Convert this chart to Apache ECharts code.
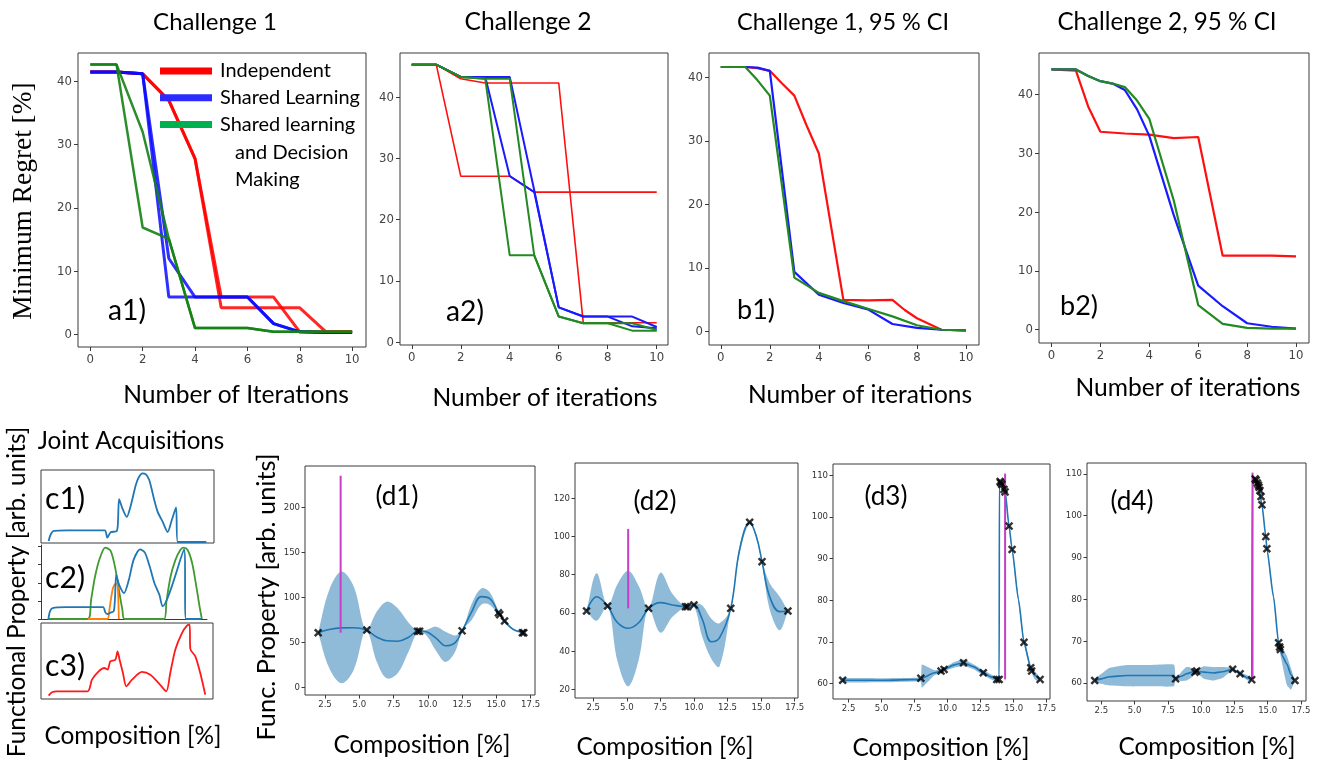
<!DOCTYPE html>
<html><head><meta charset="utf-8">
<script src="https://cdn.jsdelivr.net/npm/echarts@6/dist/echarts.min.js"></script>
<style>html,body{margin:0;padding:0;background:#fff}#c{width:1319px;height:762px}</style>
</head><body><div id="c"></div>
<script>
// ---------- top row: minimum regret vs iterations ----------
const iters = [0,1,2,3,4,5,6,7,8,9,10];
const topXTicks = [0,2,4,6,8,10];
const topYTicks = [0,10,20,30,40];

const a1RedA   = [41.5,41.5,41.2,37.0,27.8,4.2,4.2,4.2,4.2,0.4,0.4];
const a1RedB   = [41.5,41.5,41.2,37.0,27.8,5.9,5.9,5.9,0.4,0.4,0.4];
const a1BlueA  = [41.5,41.5,41.2,5.9,5.9,5.9,5.9,1.7,0.4,0.3,0.3];
const a1BlueB  = [41.5,41.5,41.2,12.0,5.9,5.9,5.9,1.7,0.4,0.3,0.3];
const a1GreenA = [42.7,42.7,32.0,15.1,1.0,1.0,1.0,0.4,0.4,0.4,0.4];
const a1GreenB = [42.7,42.7,16.9,15.1,1.0,1.0,1.0,0.4,0.4,0.4,0.4];

const a2RedA   = [45.3,45.3,27.1,27.1,27.1,24.5,24.5,24.5,24.5,24.5,24.5];
const a2RedB   = [45.3,45.3,43.0,42.3,42.3,42.3,42.3,3.2,3.2,3.2,3.2];
const a2BlueA  = [45.3,45.3,43.3,43.3,27.1,24.5,5.7,4.2,4.2,4.2,2.5];
const a2BlueB  = [45.3,45.3,43.3,43.3,43.3,24.8,5.7,4.2,4.2,2.6,2.3];
const a2GreenA = [45.3,45.3,43.3,43.0,14.2,14.2,4.2,3.1,3.1,1.9,1.9];
const a2GreenB = [45.3,45.3,43.3,43.0,43.0,14.2,4.2,3.1,3.1,3.1,2.0];

const b1RedX   = [0,1,1.5,2,2.5,3,3.5,4,5,6,7,7.5,8,9,10];
const b1Red    = [41.6,41.6,41.4,41.0,39.0,37.1,32.4,28.0,5.0,4.9,5.0,3.4,2.1,0.3,0.2];
const b1BlueX  = [0,1,1.5,2,3,4,5,6,7,8,9,10];
const b1Blue   = [41.6,41.6,41.5,41.0,9.4,5.8,4.5,3.5,1.2,0.6,0.3,0.2];
const b1GreenX = [0,1,1.5,2,3,4,5,6,7,8,9,10];
const b1Green  = [41.6,41.6,39.5,37.1,8.5,6.1,4.8,3.6,2.4,1.0,0.3,0.2];

const b2RedX   = [0,1,1.5,2,3,4,5,6,7,8,9,10];
const b2Red    = [44.3,44.1,38.0,33.7,33.4,33.2,32.6,32.8,12.6,12.6,12.6,12.5];
const b2BlueX  = [0,1,1.5,2,2.5,3,3.5,4,5,6,7,8,9,10];
const b2Blue   = [44.3,44.3,43.2,42.3,41.9,40.8,37.5,33.0,19.5,7.5,4.0,1.1,0.5,0.2];
const b2GreenX = [0,1,1.5,2,2.5,3,3.5,4,5,6,7,8,9,10];
const b2Green  = [44.3,44.3,43.2,42.3,41.9,41.3,39.0,35.9,22.0,4.2,1.0,0.3,0.2,0.2];

// ---------- c panels: joint acquisitions ----------
const c1X = [2.00,2.16,2.48,3.75,7.33,7.58,7.90,8.48,8.60,8.70,9.02,9.43,9.82,10.29,10.6,10.93,11.25,11.57,12.05,12.37,12.85,13.32,13.71,14.12,14.28,17.00];
const c1Y = [2.8,10.6,16.5,17.4,17.4,7.3,14.7,16.5,31.2,60.1,47.2,35.8,51.8,79.4,90.8,95.4,94.0,86.2,58.7,42.7,28.9,15.1,31.2,48.6,1.4,1.4];

const c2BlueX = [2.00,2.16,2.41,3.75,7.42,7.65,7.84,8.22,8.48,8.60,8.73,9.02,9.50,9.98,10.45,11.09,11.57,12.05,12.52,13.01,13.32,15.46,15.65,17.15];
const c2BlueY = [0,10.6,15.1,16.5,16.5,9.2,6.9,9.2,10.6,26.6,61.0,47.2,35.8,54.1,81.7,96.3,91.7,72.5,49.5,33.5,17.4,96.3,0,0];
const c2GreenX = [2.00,5.92,6.24,6.63,7.10,7.65,8.16,8.60,9.02,9.34,9.56,13.48,13.71,14.12,14.60,15.08,15.40,15.81,16.26,16.67,16.99,17.22];
const c2GreenY = [0,0,26.6,58.7,83.9,98.6,94.5,72.5,38.1,12.8,0,0,24.3,58.7,81.7,95.4,98.6,95.4,77.1,45.0,17.4,0];
const c2OrangeX = [5.92,7.84,8.03,8.22,8.41,8.60,8.79,8.89,8.99];
const c2OrangeY = [0,0,10.6,28.9,42.7,48.2,48.6,42.7,0];

const c3X = [2.00,2.32,2.80,5.73,6.15,6.79,7.33,7.65,7.90,8.38,8.60,8.79,9.11,9.43,9.98,10.93,11.73,12.53,13.26,13.64,14.12,14.76,15.24,15.49,15.56,16.04,16.51,16.99];
const c3Y = [4.6,9.2,10.6,10.6,26.6,38.1,42.7,40.4,51.8,54.1,65.6,54.1,35.8,17.4,26.6,37.2,33.5,22.0,10.6,35.8,67.9,90.8,100.9,102.3,68.8,58.7,35.8,6.0];

// ---------- d panels: GP fits ----------
const dXTicks = [2.5,5,7.5,10,12.5,15,17.5];
const d1YTicks = [0,50,100,150,200];
const d2YTicks = [20,40,60,80,100,120];
const d34YTicks = [60,70,80,90,100,110];

const d1X     = [2.0,2.8,3.7,4.6,5.5,6.3,7.0,7.8,8.6,9.3,9.9,10.6,11.3,12.0,12.5,13.2,13.9,14.5,15.2,15.6,16.2,17.0];
const d1Mean  = [61,64.5,66.3,66.5,64,56,52,51.5,56,63,62,55,46.5,50,63,84,101,99,82,74,65,61];
const d1Upper = [61,108,128.7,112,64,85,95.4,88,72,63,64,67.7,62,58,63,93,110,106,84,76,66,61];
const d1Lower = [61,22,4.8,20,64,28,10.4,16,40,62,58,41,28.5,40,63,75,92,92,80,72,64,61];
const d1ObsX  = [2.0,5.55,9.25,9.4,12.5,15.15,15.25,15.6,16.9,17.0];
const d1ObsY  = [61,64,62.5,62.5,63,83,81,74,61,61];
const d1Acq   = [3.64,61,235];

const d2X     = [2.0,2.75,3.57,4.3,5.1,5.9,6.62,7.5,8.4,9.4,10.0,10.6,11.3,11.9,12.74,13.4,14.15,14.65,15.07,15.64,16.39,17.0];
const d2Mean  = [61,68.5,63.6,55,52,55,62.4,65.4,64.2,63.3,64.2,57,45,47,62.4,93,107.4,99.9,86.8,68.5,60.7,61];
const d2Upper = [61,80.7,63.6,75,82.1,74,62.4,81,70,63.3,65,64,57,54.6,62.4,95,108,101,87.5,75.5,68.5,61];
const d2Lower = [61,55.9,63.6,35,21.7,36,62.4,49.7,58,63.3,63.5,48,36,32,62.4,91,106.8,98.8,86,62,51,61];
const d2ObsX  = [2.0,3.57,6.62,9.37,9.52,10.0,12.74,14.15,15.07,17.0];
const d2ObsY  = [61,63.6,62.4,63.3,63.3,64.2,62.4,107.4,86.8,61];
const d2Acq   = [5.1,62.4,103.9];

const d3X     = [2.0,5.0,7.95,8.05,9.0,9.5,9.73,10.5,11.2,12.0,12.7,13.3,13.72,13.9,13.92,14.1,14.35,14.65,14.88,15.36,15.78,16.29,16.6,17.0];
const d3Mean  = [60.8,60.8,61.0,61.3,62.6,63.0,63.4,64.5,65.0,64.0,62.6,61.6,61.0,61.0,108.5,107.8,106.2,97.8,92.2,80.2,69.9,63.8,62.0,61.0];
const d3Lower = [60.3,60.3,60.5,59.0,62.0,62.6,63.0,63.8,64.2,63.4,62.0,61.0,60.5,60.6,108,107.3,105.7,97.3,91.7,79.6,69.3,63.0,61.0,60.4];
const d3Upper = [61.3,61.3,61.5,64.6,63.2,63.4,63.8,65.2,65.8,64.6,63.2,62.2,61.5,61.4,109,108.3,106.7,98.3,92.7,80.8,70.5,64.6,63.0,61.4];
const d3ObsX  = [2.05,7.97,9.5,9.73,11.2,12.7,13.72,13.9,13.97,14.02,14.1,14.27,14.35,14.65,14.88,15.78,16.29,16.36,17.0];
const d3ObsY  = [60.8,61.3,63.0,63.4,65.0,62.6,61.0,61.0,108.5,108.2,107.8,106.6,106.0,97.8,92.2,69.9,63.8,63.0,61.0];
const d3Acq   = [14.35,61,110.4];

const d4X     = [2.0,2.5,3.1,4.4,6.0,7.95,8.08,8.5,8.9,9.3,9.6,10.2,10.9,11.6,12.37,12.93,13.5,13.8,13.86,14.06,14.3,14.57,14.86,14.94,15.44,15.82,16.1,16.44,16.75,17.0];
const d4Mean  = [60.6,61.0,61.5,61.8,61.8,61.8,61.0,61.6,62.2,62.6,62.8,62.6,62.4,62.7,63.3,62.2,61.2,60.8,109.0,108.8,107.3,102.6,95.0,92.1,80.6,69.6,66.5,64.6,62.0,60.6];
const d4Lower = [60.3,59.8,59.4,59.2,59.2,59.2,60.7,60.5,60.6,61.4,62.5,61.0,60.6,61.2,63.0,61.9,60.6,60.5,108.6,108.4,106.9,102.2,94.6,91.7,80.2,69.2,64.5,59.5,58.4,60.3];
const d4Upper = [60.9,62.2,63.6,64.3,64.3,64.4,61.3,62.6,63.8,63.6,63.1,64.0,63.8,63.8,63.6,62.5,61.8,61.1,109.4,109.2,107.7,103.0,95.4,92.5,81.0,70.0,68.5,66.5,63.5,60.9];
const d4ObsX  = [2.0,8.08,9.53,9.66,12.37,12.93,13.8,14.06,14.13,14.22,14.3,14.35,14.42,14.5,14.57,14.86,14.94,15.82,15.9,15.95,17.05];
const d4ObsY  = [60.6,61.0,62.6,62.9,63.3,62.2,60.8,108.8,108.5,107.8,107.3,106.8,106.0,104.6,102.6,95.0,92.1,69.6,68.6,68.0,60.6];
const d4Acq   = [13.86,61,110.3];

// ---------- layout helpers ----------
const SANS = "Lato, 'Open Sans', sans-serif";
const SERIF = "'Liberation Serif', 'DejaVu Serif', serif";
const TICKFONT = "'DejaVu Sans Condensed', 'DejaVu Sans', sans-serif";
const cv = document.createElement('canvas').getContext('2d');
function fit(text, family, width) { cv.font = '100px ' + family; return 100 * width / cv.measureText(text).width; }
const pairs = (xs, ys) => xs.map((x, i) => [x, ys[i]]);

const grids = [], xAxes = [], yAxes = [], series = [];
function addPanel(box, xr, yr, xt, yt, o) {
  const gi = grids.length;
  o = o || {};
  grids.push({left: box[0], top: box[1], width: box[2], height: box[3],
    show: o.border !== false, borderColor: '#3a3a3a', borderWidth: 1, containLabel: false});
  const lab = o.lab || {fontFamily: TICKFONT, fontSize: 13, color: '#444', margin: 6};
  xAxes.push({gridIndex: gi, type: 'value', min: xr[0], max: xr[1],
    axisLine: {show: !!o.xLine, onZero: false, lineStyle: {color: '#3a3a3a'}},
    splitLine: {show: false},
    axisTick: xt ? {show: true, length: o.tl || 4, lineStyle: {color: '#3a3a3a'}, customValues: xt} : {show: false},
    axisLabel: xt ? Object.assign({show: true, customValues: xt, formatter: o.xfmt || (v => String(v))}, lab) : {show: false}});
  yAxes.push({gridIndex: gi, type: 'value', min: yr[0], max: yr[1],
    axisLine: {show: !!o.yLine, onZero: false, lineStyle: {color: '#3a3a3a'}},
    splitLine: {show: false},
    axisTick: yt ? {show: true, length: o.tl || 4, lineStyle: {color: '#3a3a3a'}, customValues: yt} : {show: false},
    axisLabel: (yt && !o.noYLab) ? Object.assign({show: true, customValues: yt}, lab) : {show: false}});
  return gi;
}
function line(gi, name, data, color, width, extra) {
  series.push(Object.assign({type: 'line', name: name, xAxisIndex: gi, yAxisIndex: gi, data: data,
    symbol: 'none', showSymbol: false, lineStyle: {color: color, width: width}, itemStyle: {color: color},
    silent: true, animation: false, z: 3}, extra || {}));
}
// confidence band: polygon through upper curve and back along lower curve, via the axes' scales
function band(gi, xs, lo, hi, sm) {
  series.push({type: 'custom', xAxisIndex: gi, yAxisIndex: gi, silent: true, animation: false, z: 1, clip: true,
    data: [[xs[0], lo[0]]],
    renderItem: function (params, api) {
      const pts = [];
      for (let i = 0; i < xs.length; i++) pts.push(api.coord([xs[i], hi[i]]));
      for (let i = xs.length - 1; i >= 0; i--) pts.push(api.coord([xs[i], lo[i]]));
      return {type: 'polygon', shape: {points: pts, smooth: sm}, style: {fill: 'rgba(31,119,180,0.5)', stroke: null}};
    }});
}
const XSYM = 'path://M0,2 L2,0 L5,3 L8,0 L10,2 L7,5 L10,8 L8,10 L5,7 L2,10 L0,8 L3,5 Z';
function obs(gi, xs, ys) {
  series.push({type: 'scatter', xAxisIndex: gi, yAxisIndex: gi, data: pairs(xs, ys), symbol: XSYM, symbolSize: 8.5,
    itemStyle: {color: '#000'}, silent: true, animation: false, z: 5});
}
function acq(gi, a) {
  line(gi, 'acq' + gi, [[a[0], a[1]], [a[0], a[2]]], '#c63fc6', 2, {z: 4});
}

const RED = '#ff1010', BLUE = '#1a1aff', GREEN = '#238a23';
const L1 = 'Independent', L2 = 'Shared Learning', L3 = 'Shared learning';

// a1
let g = addPanel([78, 53, 288, 294], [-0.47, 10.53], [-2.0, 44.5], topXTicks, topYTicks);
line(g, L1, pairs(iters, a1RedA), 'rgba(255,0,0,0.85)', 3);
line(g, L1, pairs(iters, a1RedB), 'rgba(255,0,0,0.85)', 3);
line(g, L2, pairs(iters, a1BlueA), 'rgba(10,10,255,0.85)', 3);
line(g, L2, pairs(iters, a1BlueB), 'rgba(10,10,255,0.85)', 3);
line(g, L3, pairs(iters, a1GreenA), 'rgba(20,130,20,0.9)', 2.5);
line(g, L3, pairs(iters, a1GreenB), 'rgba(20,130,20,0.9)', 2.5);
// a2
g = addPanel([400, 53, 268, 292], [-0.48, 10.46], [-0.44, 47.2], topXTicks, topYTicks);
line(g, L1, pairs(iters, a2RedA), RED, 1.6);
line(g, L1, pairs(iters, a2RedB), RED, 1.6);
line(g, L2, pairs(iters, a2BlueA), BLUE, 2);
line(g, L2, pairs(iters, a2BlueB), BLUE, 2);
line(g, L3, pairs(iters, a2GreenA), GREEN, 2);
line(g, L3, pairs(iters, a2GreenB), GREEN, 2);
// b1
g = addPanel([709, 53, 270, 292], [-0.48, 10.53], [-2.1, 43.8], topXTicks, topYTicks);
line(g, L1, pairs(b1RedX, b1Red), RED, 2.2);
line(g, L2, pairs(b1BlueX, b1Blue), BLUE, 2.2);
line(g, L3, pairs(b1GreenX, b1Green), GREEN, 2.2);
// b2
g = addPanel([1039, 53, 270, 290], [-0.51, 10.53], [-2.26, 47.1], topXTicks, topYTicks);
line(g, L1, pairs(b2RedX, b2Red), RED, 2.2);
line(g, L2, pairs(b2BlueX, b2Blue), BLUE, 2.2);
line(g, L3, pairs(b2GreenX, b2Green), GREEN, 2.2);

// c1..c3
g = addPanel([41, 470, 173, 73], [1.27, 17.73], [0, 100], null, null);
line(g, 'c1', pairs(c1X, c1Y), '#1f77b4', 1.8, {smooth: 0.25});
g = addPanel([41, 545, 166, 74], [1.27, 17.73], [0, 102.3], null, [0, 25, 50, 75, 100], {border: false, xLine: true, yLine: true, noYLab: true, tl: 3});
line(g, 'c2g', pairs(c2GreenX, c2GreenY), '#3f9a2f', 1.8, {smooth: 0.3});
line(g, 'c2o', pairs(c2OrangeX, c2OrangeY), '#ff7f0e', 1.8, {smooth: 0.3});
line(g, 'c2b', pairs(c2BlueX, c2BlueY), '#1f77b4', 1.8, {smooth: 0.25});
g = addPanel([41, 623, 172, 76], [1.27, 17.73], [0, 104.6], null, null);
line(g, 'c3', pairs(c3X, c3Y), '#ff1a1a', 1.8, {smooth: 0.25});

// d1..d4
const dLab = {fontFamily: TICKFONT, fontSize: 9.5, color: '#333', margin: 5};
const dfmt = v => v.toFixed(1);
g = addPanel([305, 466, 230, 229], [1.04, 17.82], [-8.1, 245.8], dXTicks, d1YTicks, {lab: dLab, xfmt: dfmt, tl: 3.5});
band(g, d1X, d1Lower, d1Upper, 0.35);
line(g, 'd1m', pairs(d1X, d1Mean), '#1f77b4', 1.6, {smooth: 0.4, z: 3});
acq(g, d1Acq);
obs(g, d1ObsX, d1ObsY);

g = addPanel([575, 463, 223, 235], [1.14, 17.75], [15.6, 138.3], dXTicks, d2YTicks, {lab: dLab, xfmt: dfmt, tl: 3.5});
band(g, d2X, d2Lower, d2Upper, 0.35);
line(g, 'd2m', pairs(d2X, d2Mean), '#1f77b4', 1.6, {smooth: 0.4, z: 3});
acq(g, d2Acq);
obs(g, d2ObsX, d2ObsY);

g = addPanel([833, 464, 217, 235], [1.32, 17.75], [56.3, 112.7], dXTicks, d34YTicks, {lab: dLab, xfmt: dfmt, tl: 3.5});
band(g, d3X, d3Lower, d3Upper, 0.1);
line(g, 'd3m', pairs(d3X, d3Mean), '#1f77b4', 1.6, {smooth: 0.2, smoothMonotone: 'x', z: 3});
acq(g, d3Acq);
obs(g, d3ObsX, d3ObsY);

g = addPanel([1087, 463, 219, 238], [1.42, 17.88], [55.7, 112.6], dXTicks, d34YTicks, {lab: dLab, xfmt: dfmt, tl: 3.5});
band(g, d4X, d4Lower, d4Upper, 0.15);
line(g, 'd4m', pairs(d4X, d4Mean), '#1f77b4', 1.6, {smooth: 0.2, smoothMonotone: 'x', z: 3});
acq(g, d4Acq);
obs(g, d4ObsX, d4ObsY);

// ---------- texts ----------
const legendSize = fit('Independent', SANS, 111);
const texts = [
  ['Challenge 1', 215, 22, 124], ['Challenge 2', 528, 22, 127],
  ['Challenge 1, 95 % CI', 843, 22, 212], ['Challenge 2, 95 % CI', 1167, 22, 219],
  ['Number of Iterations', 236, 395, 226], ['Number of iterations', 545, 398, 225],
  ['Number of iterations', 860, 395, 224], ['Number of iterations', 1188, 388, 225],
  ['a1)', 127, 311, 38], ['a2)', 465, 312, 38], ['b1)', 756, 310, 38], ['b2)', 1079, 306, 38],
  ['Joint Acquisitions', 131, 441, 187],
  ['c1)', 65, 499, 40], ['c2)', 65, 578, 40], ['c3)', 65, 666, 40],
  ['Composition [%]', 133, 736, 177],
  ['(d1)', 397, 497, 43], ['(d2)', 655, 502, 43], ['(d3)', 886, 497, 43], ['(d4)', 1132, 502, 43],
  ['Composition [%]', 422, 745, 177], ['Composition [%]', 665, 747, 177],
  ['Composition [%]', 941, 748, 177], ['Composition [%]', 1207, 747, 177]
];
const graphics = texts.map(t => ({type: 'text', x: t[1], y: t[2], silent: true,
  style: {text: t[0], font: fit(t[0], SANS, t[3]).toFixed(1) + 'px ' + SANS, fill: '#000', align: 'center', verticalAlign: 'middle'}}));
const rot = [
  ['Minimum Regret [%]', 24, 201, 237, SERIF],
  ['Functional Property [arb. units]', 17, 592, 330, SANS],
  ['Func. Property [arb. units]', 267, 597, 287, SANS]
];
rot.forEach(t => graphics.push({type: 'text', x: t[1], y: t[2], rotation: Math.PI / 2, silent: true,
  style: {text: t[0], font: fit(t[0], t[4], t[3]).toFixed(1) + 'px ' + t[4], fill: '#000', align: 'center', verticalAlign: 'middle'}}));
graphics.push({type: 'text', x: 235, y: 153, silent: true, style: {text: 'and Decision', font: legendSize.toFixed(1) + 'px ' + SANS, fill: '#000', align: 'left', verticalAlign: 'middle'}});
graphics.push({type: 'text', x: 235, y: 180, silent: true, style: {text: 'Making', font: legendSize.toFixed(1) + 'px ' + SANS, fill: '#000', align: 'left', verticalAlign: 'middle'}});

const chart = echarts.init(document.getElementById('c'), null, {renderer: 'canvas'});
chart.setOption({
  animation: false,
  backgroundColor: '#fff',
  grid: grids, xAxis: xAxes, yAxis: yAxes, series: series,
  legend: {show: true, orient: 'vertical', left: 160, top: 61, padding: 0, itemWidth: 52, itemHeight: 7, itemGap: 6.8,
    icon: 'rect', selectedMode: false,
    textStyle: {fontFamily: SANS, fontSize: legendSize, color: '#000', padding: [0, 0, 0, 3]},
    data: [
      {name: L1, icon: 'rect', itemStyle: {color: '#ff0000'}},
      {name: L2, icon: 'rect', itemStyle: {color: '#2b2bff'}},
      {name: L3, icon: 'rect', itemStyle: {color: '#00b050'}}
    ]},
  graphic: graphics
});
</script></body></html>
